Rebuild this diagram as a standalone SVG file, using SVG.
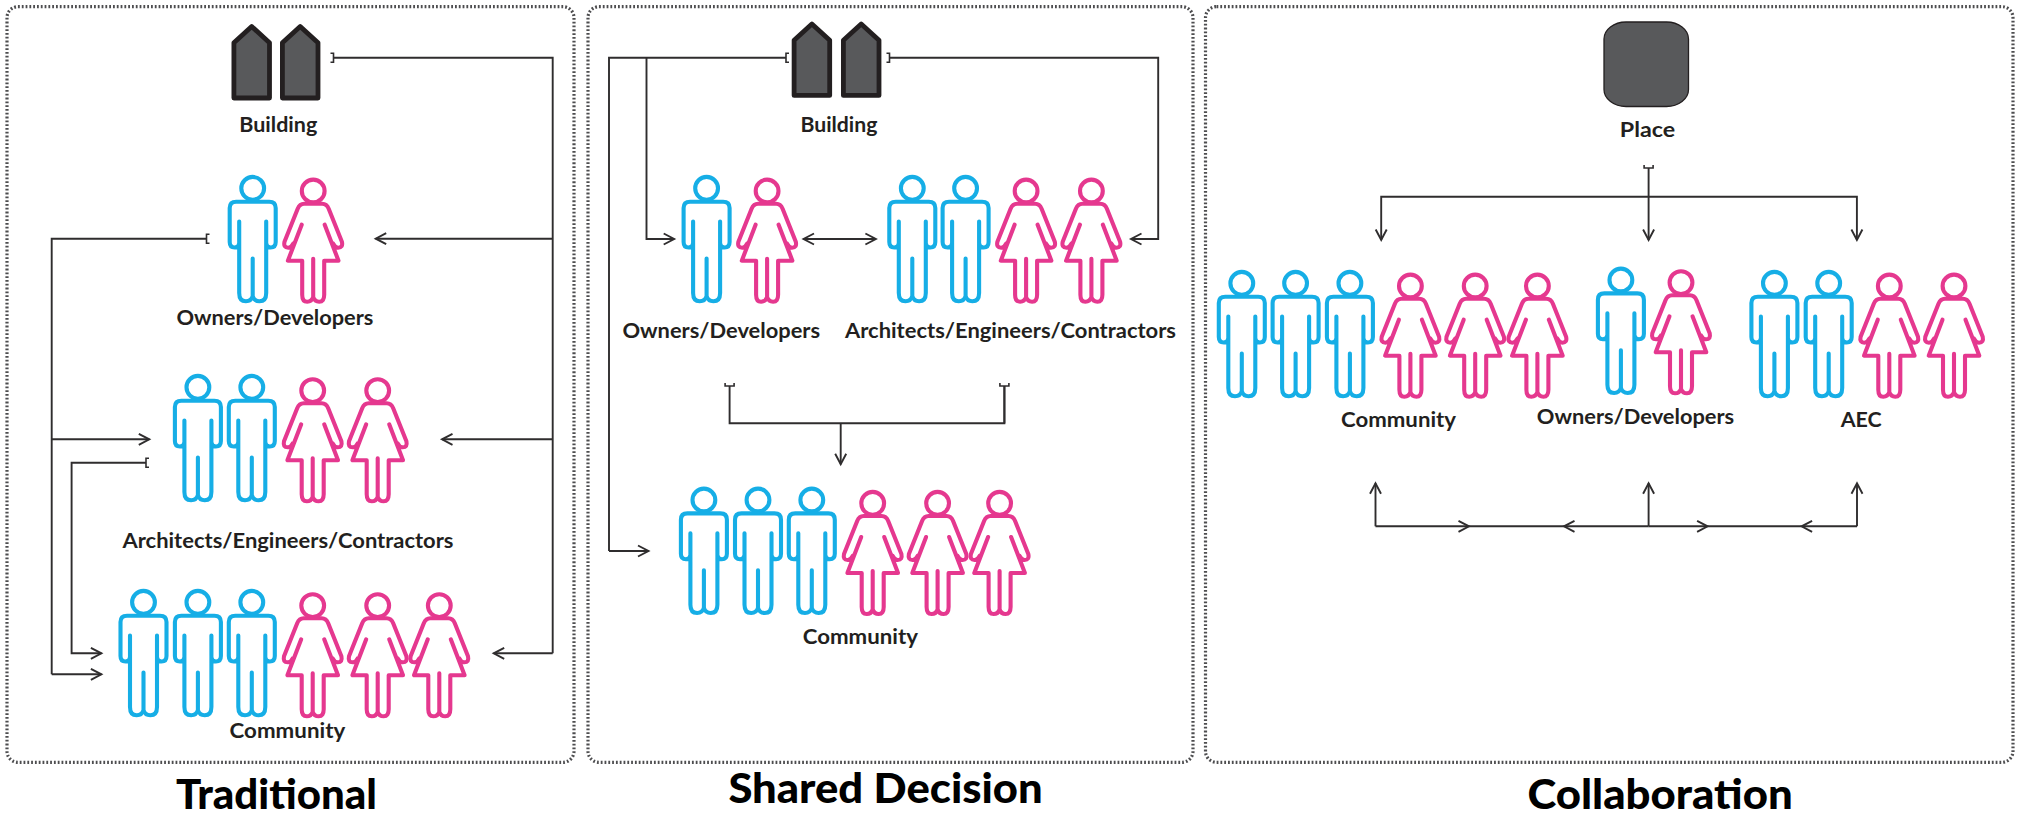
<svg xmlns="http://www.w3.org/2000/svg" xmlns:xlink="http://www.w3.org/1999/xlink" width="2019" height="817" viewBox="0 0 2019 817">
<style>
.panel{fill:none;stroke:#4d4d4f;stroke-width:3.2;stroke-dasharray:1.8 2}
.man,.woman{fill:none;stroke-width:4.1;stroke-linecap:round;stroke-linejoin:round}
.man{stroke:#16aee6}
.woman{stroke:#e5388f}
.bld{fill:#58595b;stroke:#231f20;stroke-width:4.8;stroke-linejoin:round}
.place{fill:#58595b;stroke:#231f20;stroke-width:1.3}
.lbl{font-family:"Lato","Liberation Sans",sans-serif;font-weight:700;font-size:20px;fill:#231f20}
.ttl{font-family:"Lato","Liberation Sans",sans-serif;font-weight:900;font-size:41px;fill:#000}
#connectors path{fill:none;stroke:#2f2d2e;stroke-width:1.9}
.a{marker-end:url(#arrow)}
.t{marker-start:url(#tee)}
</style>
<defs>
<marker id="arrow" markerUnits="userSpaceOnUse" markerWidth="16" markerHeight="16" refX="12" refY="8" orient="auto" overflow="visible"><path d="M1.5 2.5 L12 8 L1.5 13.5" fill="none" stroke="#2f2d2e" stroke-width="1.9"/></marker>
<marker id="tee" markerUnits="userSpaceOnUse" markerWidth="10" markerHeight="14" refX="5" refY="7" orient="auto" overflow="visible"><path d="M2 2.5 H5 V11.5 H2" fill="none" stroke="#2f2d2e" stroke-width="1.6"/></marker>
<g id="m" class="man"><circle cx="0" cy="13.3" r="11.4"/><path d="M-13.5 46.5 V118 Q-13.5 126.3 -6.8 126.3 Q-1.5 126.3 0 121 Q1.5 126.3 6.8 126.3 Q13.5 126.3 13.5 118 V46.5 M0 121 V83.5 M-13.5 68 Q-13.5 72.5 -18 72.5 Q-23 72.5 -23 67 V33 Q-23 26.7 -16.5 26.7 H16.5 Q23 26.7 23 33 V67 Q23 72.5 18 72.5 Q13.5 72.5 13.5 68"/></g>
<g id="w" class="woman"><circle cx="0" cy="13.3" r="11.4"/><path d="M-11.5 47 L-25.3 83 H-11 V117 Q-11 124 -6 124 Q-1.5 124 0 119.5 Q1.5 124 6 124 Q11 124 11 117 V83 H25.3 L11.5 47 M0 119.5 V81 M-20 66 Q-22 70 -25 70 Q-30 70 -28.7 64 L-15.5 31 Q-13.5 26 -9 26 H9 Q13.5 26 15.5 31 L28.7 64 Q30 70 25 70 Q22 70 20 66"/></g>
<path id="b" class="bld" d="M20.2 3.2 L38 19.5 V74.7 H2.4 V19.5 Z"/>
</defs>
<rect fill="#fff" width="2019" height="817"/>
<g id="panels">
<rect class="panel" x="7" y="6.7" width="567" height="755.6" rx="11"/>
<rect class="panel" x="588" y="6.7" width="605" height="755.6" rx="11"/>
<rect class="panel" x="1205.5" y="6.7" width="807.5" height="755.6" rx="11"/>
</g>
<g id="connectors">
<path class="t" d="M333.5 57.7 H552.7 V653.3"/>
<path class="a" d="M552.7 238.7 H375.7"/>
<path class="a" d="M552.7 439.3 H442"/>
<path class="a" d="M552.7 653.3 H493.7"/>
<path class="t" d="M206.5 238.7 H51.7 V674.3"/>
<path class="a" d="M51.7 439.3 H149.3"/>
<path class="a" d="M51.7 674.3 H101.4"/>
<path class="t a" d="M146 462.7 H71.6 V653.3 H101.4"/>
<path class="t" d="M786 57.7 H609 V551"/>
<path class="a" d="M609 551 H648.5"/>
<path class="a" d="M646.5 57.7 V239 H674.2"/>
<path class="t a" d="M889.5 57.7 H1158.2 V239 H1131"/>
<path class="a" d="M840 239 H875.9"/>
<path class="a" d="M840 239 H803.5"/>
<path class="t" d="M729.6 386 V423.3 H1004.4 V386"/>
<path class="t" d="M1004.4 386 V423.3"/>
<path class="a" d="M840.7 423.3 V464.3"/>
<path class="t a" d="M1648.6 168 V240"/>
<path class="a" d="M1648.6 196.7 H1381.2 V240"/>
<path class="a" d="M1648.6 196.7 H1856.9 V240"/>
<path class="a" d="M1375.5 526.3 H1469"/>
<path d="M1469 526.3 H1564"/>
<path class="a" d="M1648.6 526.3 H1564"/>
<path class="a" d="M1648.6 526.3 H1707.6"/>
<path d="M1707.6 526.3 H1801.6"/>
<path class="a" d="M1857 526.3 H1801.6"/>
<path class="a" d="M1375.5 526.3 V483.3"/>
<path class="a" d="M1648.6 526.3 V483.3"/>
<path class="a" d="M1857 526.3 V483.3"/>
</g>
<g id="t-building">
<use xlink:href="#b" href="#b" x="231.5" y="23.3"/><use href="#b" xlink:href="#b" x="280" y="23.3"/>
<text class="lbl" x="239.3" y="131.7" textLength="78" lengthAdjust="spacingAndGlyphs">Building</text>
</g>
<g id="t-owners">
<use href="#m" x="252.7" y="175"/><use href="#w" x="313.2" y="177.7"/>
<text class="lbl" x="176.4" y="325" textLength="197" lengthAdjust="spacingAndGlyphs">Owners/Developers</text>
</g>
<g id="t-aec">
<use href="#m" x="197.9" y="374"/><use href="#m" x="251.8" y="374"/><use href="#w" x="312.7" y="377.3"/><use href="#w" x="377.7" y="377.3"/>
<text class="lbl" x="122.5" y="548.3" textLength="331" lengthAdjust="spacingAndGlyphs">Architects/Engineers/Contractors</text>
</g>
<g id="t-community">
<use href="#m" x="143.5" y="589"/><use href="#m" x="197.9" y="589"/><use href="#m" x="251.8" y="589"/><use href="#w" x="312.7" y="592.3"/><use href="#w" x="377.7" y="592.3"/><use href="#w" x="439.3" y="592.3"/>
<text class="lbl" x="229.6" y="737.7" textLength="115.6" lengthAdjust="spacingAndGlyphs">Community</text>
</g>
<text id="title-traditional" class="ttl" x="176" y="809.3" textLength="201" lengthAdjust="spacingAndGlyphs">Traditional</text>
<g id="s-building">
<use href="#b" x="791.7" y="20.7"/><use href="#b" x="841" y="20.7"/>
<text class="lbl" x="800.4" y="131.7" textLength="77" lengthAdjust="spacingAndGlyphs">Building</text>
</g>
<g id="s-owners">
<use href="#m" x="706.6" y="175"/><use href="#w" x="767.1" y="177.7"/>
<text class="lbl" x="622.4" y="338" textLength="197.7" lengthAdjust="spacingAndGlyphs">Owners/Developers</text>
</g>
<g id="s-aec">
<use href="#m" x="912.3" y="175"/><use href="#m" x="965.6" y="175"/><use href="#w" x="1026.1" y="177.7"/><use href="#w" x="1091.4" y="177.7"/>
<text class="lbl" x="845" y="338" textLength="331" lengthAdjust="spacingAndGlyphs">Architects/Engineers/Contractors</text>
</g>
<g id="s-community">
<use href="#m" x="703.9" y="486.7"/><use href="#m" x="758" y="486.7"/><use href="#m" x="811.8" y="486.7"/><use href="#w" x="872.7" y="490"/><use href="#w" x="937.6" y="490"/><use href="#w" x="999.6" y="490"/>
<text class="lbl" x="802.7" y="644" textLength="115.3" lengthAdjust="spacingAndGlyphs">Community</text>
</g>
<text id="title-shared" class="ttl" x="728.4" y="802.7" textLength="314.3" lengthAdjust="spacingAndGlyphs">Shared Decision</text>
<g id="c-place">
<rect class="place" x="1604" y="22" width="84.5" height="84.5" rx="22" ry="17"/>
<text class="lbl" x="1619.8" y="136.7" textLength="55.4" lengthAdjust="spacingAndGlyphs">Place</text>
</g>
<g id="c-community">
<use href="#m" x="1241.8" y="270"/><use href="#m" x="1295.6" y="270"/><use href="#m" x="1349.9" y="270"/><use href="#w" x="1410.4" y="272.7"/><use href="#w" x="1475.2" y="272.7"/><use href="#w" x="1537.4" y="272.7"/>
<text class="lbl" x="1341" y="426.7" textLength="115" lengthAdjust="spacingAndGlyphs">Community</text>
</g>
<g id="c-owners">
<use href="#m" x="1620.9" y="266.7"/><use href="#w" x="1681" y="269.3"/>
<text class="lbl" x="1536.8" y="424" textLength="197.4" lengthAdjust="spacingAndGlyphs">Owners/Developers</text>
</g>
<g id="c-aec">
<use href="#m" x="1774.4" y="270"/><use href="#m" x="1828.7" y="270"/><use href="#w" x="1889.3" y="272.7"/><use href="#w" x="1954" y="272.7"/>
<text class="lbl" x="1840.7" y="426.7" textLength="41" lengthAdjust="spacingAndGlyphs">AEC</text>
</g>
<text id="title-collab" class="ttl" x="1527.4" y="809.3" textLength="265.3" lengthAdjust="spacingAndGlyphs">Collaboration</text>
</svg>
